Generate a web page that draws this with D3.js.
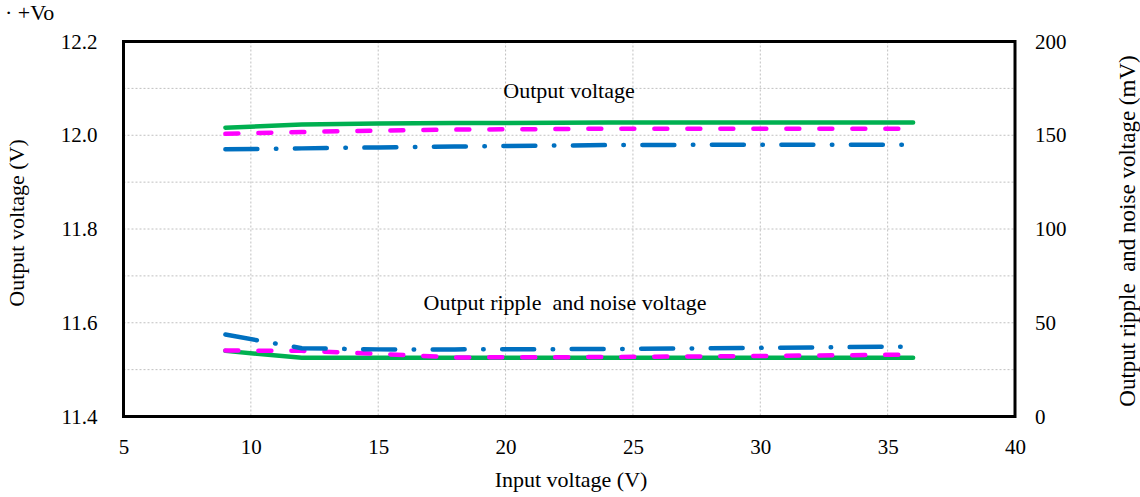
<!DOCTYPE html>
<html><head><meta charset="utf-8">
<script src="https://cdn.jsdelivr.net/npm/d3@7"></script>
<style>body{margin:0;background:#fff}svg{display:block}svg text{font-family:"Liberation Serif","Times New Roman",serif !important;fill:#000;white-space:pre}</style>
</head><body>
<svg id="c" width="1140" height="497"></svg>
<script>
const inputV = [9, 12, 15, 18, 24, 30, 36];
// output voltage (V), left axis
const voGreen   = [12.016, 12.023, 12.025, 12.026, 12.027, 12.027, 12.027];
const voMagenta = [12.003, 12.007, 12.010, 12.012, 12.014, 12.014, 12.014];
const voBlue    = [11.970, 11.972, 11.974, 11.976, 11.979, 11.980, 11.980];
// ripple & noise (mV), right axis
const rnGreen   = [35.0, 31.3, 31.3, 31.3, 31.3, 31.3, 31.3];
const rnMagenta = [35.2, 35.0, 33.4, 31.5, 31.7, 32.3, 33.0];
const rnBlue    = [43.7, 36.4, 35.8, 35.8, 36.0, 36.6, 37.3];
const xTicks = [5, 10, 15, 20, 25, 30, 35, 40];
const yLeftTicks = [11.4, 11.6, 11.8, 12.0, 12.2];
const yRightTicks = [0, 50, 100, 150, 200];

const svg = d3.select("#c");
const L = 123.5, R = 1015, T = 41.5, B = 416.5;
const x = d3.scaleLinear().domain([5, 40]).range([L, R]);
const yL = d3.scaleLinear().domain([11.4, 12.2]).range([B, T]);
const yR = d3.scaleLinear().domain([0, 200]).range([B, T]);

// grid
const g = svg.append("g");
d3.range(1, 7).forEach(i => {
  const xv = x(5 + 5 * i);
  g.append("line").attr("x1", xv).attr("x2", xv).attr("y1", T).attr("y2", B)
    .attr("stroke", "#c0c0c0").attr("stroke-width", 1).attr("stroke-dasharray", "2,2");
});
d3.range(1, 8).forEach(i => {
  const yv = yL(11.4 + 0.1 * i);
  g.append("line").attr("x1", L).attr("x2", R).attr("y1", yv).attr("y2", yv)
    .attr("stroke", "#c0c0c0").attr("stroke-width", 1).attr("stroke-dasharray", "2,2");
});

// axes (labels only)
const tfs = "21px", fs = "22px";
const ax = svg.append("g").attr("transform", `translate(0,${B})`)
  .call(d3.axisBottom(x).tickValues(xTicks).tickSize(0).tickPadding(0).tickFormat(d3.format("d")));
const ayl = svg.append("g").attr("transform", `translate(${L},0)`)
  .call(d3.axisLeft(yL).tickValues(yLeftTicks).tickSize(0).tickPadding(26).tickFormat(d3.format(".1f")));
const ayr = svg.append("g").attr("transform", `translate(${R},0)`)
  .call(d3.axisRight(yR).tickValues(yRightTicks).tickSize(0).tickPadding(20).tickFormat(d3.format("d")));
[ax, ayl, ayr].forEach(a => {
  a.attr("font-family", "Liberation Serif").attr("font-size", 21);
  a.select(".domain").remove();
  a.selectAll("text").style("font-size", tfs).attr("fill", "#000");
});
ax.selectAll("text").attr("y", 37).attr("dy", "0");

// lines
const lineL = d3.line().x((d, i) => x(inputV[i])).y(d => yL(d));
const lineR = d3.line().x((d, i) => x(inputV[i])).y(d => yR(d));
const styles = {
  green: {c: "#00B050", dash: null},
  magenta: {c: "#FF00FF", dash: "13,20"},
  blue: {c: "#0070C0", dash: "32,18.5,0.5,18.5"}
};
function draw(data, gen, st) {
  svg.append("path").datum(data).attr("d", gen).attr("fill", "none")
    .attr("stroke", st.c).attr("stroke-width", 4.5).attr("stroke-linecap", "round")
    .attr("stroke-linejoin", "round").attr("stroke-dasharray", st.dash);
}
draw(rnGreen, lineR, styles.green);
draw(rnMagenta, lineR, styles.magenta);
draw(rnBlue, lineR, styles.blue);
draw(voGreen, lineL, styles.green);
draw(voMagenta, lineL, styles.magenta);
draw(voBlue, lineL, styles.blue);

// frame
svg.append("rect").attr("x", L).attr("y", T).attr("width", R - L).attr("height", B - T)
  .attr("fill", "none").attr("stroke", "#000").attr("stroke-width", 3);

// texts
svg.append("text").attr("x", 569).attr("y", 98).attr("text-anchor", "middle").style("font-size", fs).text("Output voltage");
svg.append("text").attr("x", 565).attr("y", 310).attr("text-anchor", "middle").style("font-size", fs).text("Output ripple  and noise voltage");
svg.append("text").attr("x", 571).attr("y", 487).attr("text-anchor", "middle").style("font-size", fs).text("Input voltage (V)");
svg.append("text").attr("transform", "translate(24,223) rotate(-90)").attr("text-anchor", "middle").style("font-size", fs).text("Output voltage (V)");
svg.append("text").attr("transform", "translate(1135,231) rotate(-90)").attr("text-anchor", "middle").style("font-size", "23px").text("Output ripple  and noise voltage (mV)");
svg.append("text").attr("x", 5).attr("y", 20).style("font-size", fs).text("\u00B7 +Vo");
</script>
</body></html>
